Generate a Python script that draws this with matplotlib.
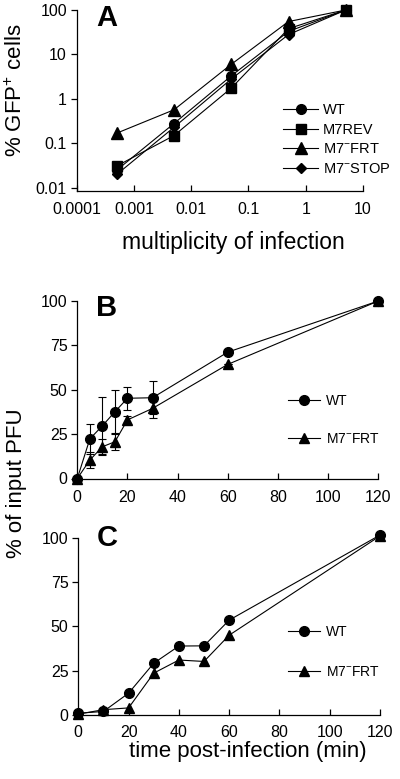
import matplotlib
matplotlib.use("Agg")
import matplotlib.pyplot as plt
from matplotlib.ticker import FixedLocator, FixedFormatter, NullLocator

plt.rcParams['font.family'] = ['Liberation Sans', 'DejaVu Sans']
plt.rcParams['mathtext.fontset'] = 'custom'
plt.rcParams['mathtext.rm'] = 'Liberation Sans'
plt.rcParams['mathtext.it'] = 'Liberation Sans:italic'
plt.rcParams['mathtext.bf'] = 'Liberation Sans:bold'

# ---------------- Panel A data ----------------
moi = [0.0005, 0.005, 0.05, 0.5, 5]
gfp_wt = [0.025, 0.28, 3.3, 33, 100]
gfp_m7rev = [0.031, 0.15, 1.75, 38, 100]
gfp_m7frt = [0.17, 0.57, 6.0, 55, 100]
gfp_m7stop = [0.02, 0.23, 2.8, 28, 100]
a_xticks = [0.0001, 0.001, 0.01, 0.1, 1, 10]
a_xticklabels = ['0.0001', '0.001', '0.01', '0.1', '1', '10']
a_yticks = [0.01, 0.1, 1, 10, 100]
a_yticklabels = ['0.01', '0.1', '1', '10', '100']
a_labels = ['WT', 'M7REV', 'M7$^{-}$FRT', 'M7$^{-}$STOP']

# ---------------- Panel B data ----------------
b_time = [0, 5, 10, 15, 20, 30, 60, 120]
b_wt = [0, 22.3, 29.7, 37.6, 45.2, 45.5, 71.2, 100]
b_wt_err = [0, 8.5, 16.0, 12.5, 6.4, 9.4, 0, 0]
b_frt = [0, 10.4, 17.9, 20.7, 33.0, 39.5, 64.3, 100]
b_frt_err = [0, 4.3, 4.5, 4.8, 2.0, 5.5, 0, 0]

# ---------------- Panel C data ----------------
c_time = [0, 10, 20, 30, 40, 50, 60, 120]
c_wt = [1.0, 2.0, 12.3, 29.2, 38.9, 39.0, 53.5, 101.5]
c_frt = [0.5, 3.0, 4.0, 23.6, 31.0, 30.2, 45.0, 101.0]

bc_xticks = [0, 20, 40, 60, 80, 100, 120]
bc_yticks = [0, 25, 50, 75, 100]
bc_labels = ['WT', 'M7$^{-}$FRT']

W, H = 400, 779
fig = plt.figure(figsize=(W / 100, H / 100), dpi=100)

def frac(x0, x1, ytop, ybot):
    return [x0 / W, 1 - ybot / H, (x1 - x0) / W, (ybot - ytop) / H]

axA = fig.add_axes(frac(76.7, 363, 10, 191))
axB = fig.add_axes(frac(77.3, 378.3, 301, 478.5))
axC = fig.add_axes(frac(78.3, 380, 537.7, 715))

tick_fs = 11.5
lw = 0.8

def style(ax, xpad=7):
    for s in ['top', 'right']:
        ax.spines[s].set_visible(False)
    for s in ['left', 'bottom']:
        ax.spines[s].set_linewidth(0.9)
    ax.tick_params(axis='y', direction='out', length=4, width=0.9, pad=3, labelsize=tick_fs)
    ax.tick_params(axis='x', direction='in', length=4, width=0.9, pad=xpad, labelsize=tick_fs)

# Panel A
style(axA, xpad=8)
axA.set_xscale('log')
axA.set_yscale('log')
kw = dict(color='black', lw=lw, mfc='black', mec='black', clip_on=False)
axA.plot(moi, gfp_wt, marker='o', ms=7, label=a_labels[0], **kw)
axA.plot(moi, gfp_m7rev, marker='s', ms=7, label=a_labels[1], **kw)
axA.plot(moi, gfp_m7frt, marker='^', ms=8, label=a_labels[2], **kw)
axA.plot(moi, gfp_m7stop, marker='D', ms=5.5, label=a_labels[3], **kw)
axA.set_xlim(0.0001, 10)
axA.set_ylim(0.0085, 100)
axA.xaxis.set_major_locator(FixedLocator(a_xticks))
axA.xaxis.set_major_formatter(FixedFormatter(a_xticklabels))
axA.yaxis.set_major_locator(FixedLocator(a_yticks))
axA.yaxis.set_major_formatter(FixedFormatter(a_yticklabels))
axA.xaxis.set_minor_locator(NullLocator())
axA.yaxis.set_minor_locator(NullLocator())
axA.legend(loc='center left', bbox_to_anchor=(283 / W, 1 - 139.5 / H),
           bbox_transform=fig.transFigure, frameon=False, fontsize=10.5,
           handlelength=2.4, handletextpad=0.35, labelspacing=0.38,
           borderpad=0, borderaxespad=0)

# Panel B
style(axB, xpad=8)
ebw = axB.errorbar(b_time, b_wt, yerr=b_wt_err, fmt='-o', color='black', lw=lw, ms=7,
                   capsize=3, elinewidth=lw, capthick=lw, clip_on=False)
ebf = axB.errorbar(b_time, b_frt, yerr=b_frt_err, fmt='-^', color='black', lw=lw, ms=7.5,
                   capsize=3, elinewidth=lw, capthick=lw, clip_on=False)
axB.set_xlim(0, 120)
axB.set_ylim(0, 100)
axB.set_xticks(bc_xticks)
axB.set_yticks(bc_yticks)
axB.legend([ebw.lines[0], ebf.lines[0]], bc_labels, loc='center left',
           bbox_to_anchor=(288 / W, 1 - 420 / H),
           bbox_transform=fig.transFigure, frameon=False, fontsize=10,
           handlelength=2.3, handletextpad=0.4, labelspacing=1.75,
           borderpad=0, borderaxespad=0)

# Panel C
style(axC, xpad=7)
axC.plot(c_time, c_wt, marker='o', ms=7, label=bc_labels[0], **kw)
axC.plot(c_time, c_frt, marker='^', ms=7.5, label=bc_labels[1], **kw)
axC.set_xlim(0, 120)
axC.set_ylim(0, 100)
axC.set_xticks(bc_xticks)
axC.set_yticks(bc_yticks)
axC.legend(loc='center left', bbox_to_anchor=(288 / W, 1 - 651.7 / H),
           bbox_transform=fig.transFigure, frameon=False, fontsize=10,
           handlelength=2.3, handletextpad=0.4, labelspacing=1.85,
           borderpad=0, borderaxespad=0)

# Panel letters
for (x, y, t) in [(106.5, 17.5, 'A'), (106.7, 307.5, 'B'), (107.5, 538, 'C')]:
    fig.text(x / W, 1 - y / H, t, fontsize=21, fontweight='bold', ha='center', va='center')

# Axis labels
fig.text(16 / W, 1 - 90 / H, '% GFP$^{+}$ cells', rotation=90, fontsize=16, ha='center', va='center')
fig.text(233 / W, 1 - 243 / H, 'multiplicity of infection', fontsize=16.5, ha='center', va='center')
fig.text(17 / W, 1 - 483.5 / H, '% of input PFU', rotation=90, fontsize=16, ha='center', va='center')
fig.text(247.5 / W, 1 - 752 / H, 'time post-infection (min)', fontsize=16, ha='center', va='center')

fig.savefig('out.png', dpi=100)
